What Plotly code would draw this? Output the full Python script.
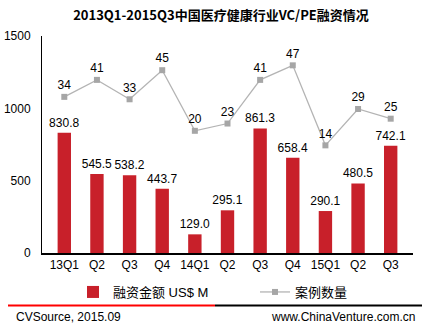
import plotly.graph_objects as go

categories = ["13Q1", "Q2", "Q3", "Q4", "14Q1", "Q2 ", "Q3 ", "Q4 ", "15Q1", "Q2  ", "Q3  "]
tick_labels = ["13Q1", "Q2", "Q3", "Q4", "14Q1", "Q2", "Q3", "Q4", "15Q1", "Q2", "Q3"]
amount = [830.8, 545.5, 538.2, 443.7, 129.0, 295.1, 861.3, 658.4, 290.1, 480.5, 742.1]
cases = [34, 41, 33, 45, 20, 23, 41, 47, 14, 29, 25]

font_main = "Liberation Sans, Arial, Noto Sans CJK SC, sans-serif"
font_cjk = "Liberation Sans, Arial, Noto Sans CJK SC, sans-serif"

L, R, T, B = 42, 17, 36, 79
W, H = 430, 332
pw, ph = W - L - R, H - T - B

def px(x):
    return (x - L) / pw

def py(y):
    return (H - B - y) / ph

fig = go.Figure()
fig.add_trace(go.Bar(
    x=categories, y=amount, name="融资金额 US$ M", legend="legend",
    marker=dict(color="#C8202A", line=dict(width=0)),
    text=[f"{v:.1f}" for v in amount], textposition="outside",
    constraintext="none",
    textfont=dict(size=12, color="#000000", family=font_main),
    cliponaxis=False,
))
fig.add_trace(go.Scatter(
    x=categories, y=cases, name="案例数量", yaxis="y2", legend="legend2",
    mode="lines+markers+text",
    line=dict(color="#B4B4B4", width=1.3),
    marker=dict(symbol="square", size=6, color="#A6A6A6"),
    text=[str(v) for v in cases], textposition="top center",
    textfont=dict(size=12, color="#000000", family=font_main),
    cliponaxis=False,
))

leg_common = dict(orientation="h", xanchor="left", yanchor="middle", itemwidth=30,
                  font=dict(size=13, family=font_cjk), bgcolor="rgba(0,0,0,0)")

fig.update_layout(
    width=W, height=H,
    margin=dict(l=L, r=R, t=T, b=B, autoexpand=False),
    paper_bgcolor="white", plot_bgcolor="white",
    font=dict(family=font_cjk, size=12, color="#000000"),
    bargap=0.59,
    showlegend=True,
    legend=dict(x=px(73), y=py(292), **leg_common),
    legend2=dict(x=px(255), y=py(292), **leg_common),
    xaxis=dict(tickvals=categories, ticktext=tick_labels, showline=True, linecolor="#000000",
               linewidth=1.5, ticks="", showgrid=False, zeroline=False,
               tickfont=dict(size=12, family=font_main)),
    yaxis=dict(range=[0, 1500], tickvals=[0, 500, 1000, 1500], showline=True,
               linecolor="#000000", linewidth=1, ticks="", showgrid=False, zeroline=False,
               tickfont=dict(size=12, family=font_main), ticklabelstandoff=8),
    yaxis2=dict(overlaying="y", range=[-30.4, 59.1], visible=False, showgrid=False),
    title=dict(text="<b>2013Q1-2015Q3中国医疗健康行业VC/PE融资情况</b>",
               x=221 / W, xanchor="center", xref="container",
               y=1 - 15 / H, yanchor="middle", yref="container",
               font=dict(size=13, family="Noto Sans CJK SC, sans-serif", color="#000000")),
    shapes=[
        dict(type="line", xref="paper", yref="paper", x0=px(8), x1=px(215), y0=py(305.5), y1=py(305.5),
             line=dict(color="#FF0000", width=2)),
        dict(type="line", xref="paper", yref="paper", x0=px(215), x1=px(422), y0=py(305.5), y1=py(305.5),
             line=dict(color="#000000", width=2)),
    ],
    annotations=[
        dict(text="CVSource, 2015.09", xref="paper", yref="paper", x=px(14), y=py(317),
             xanchor="left", yanchor="middle", showarrow=False,
             font=dict(size=12, family=font_main, color="#000000")),
        dict(text="www.ChinaVenture.com.cn", xref="paper", yref="paper", x=px(417), y=py(317),
             xanchor="right", yanchor="middle", showarrow=False,
             font=dict(size=12, family=font_main, color="#000000")),
    ],
)

fig.write_html("out.html")
